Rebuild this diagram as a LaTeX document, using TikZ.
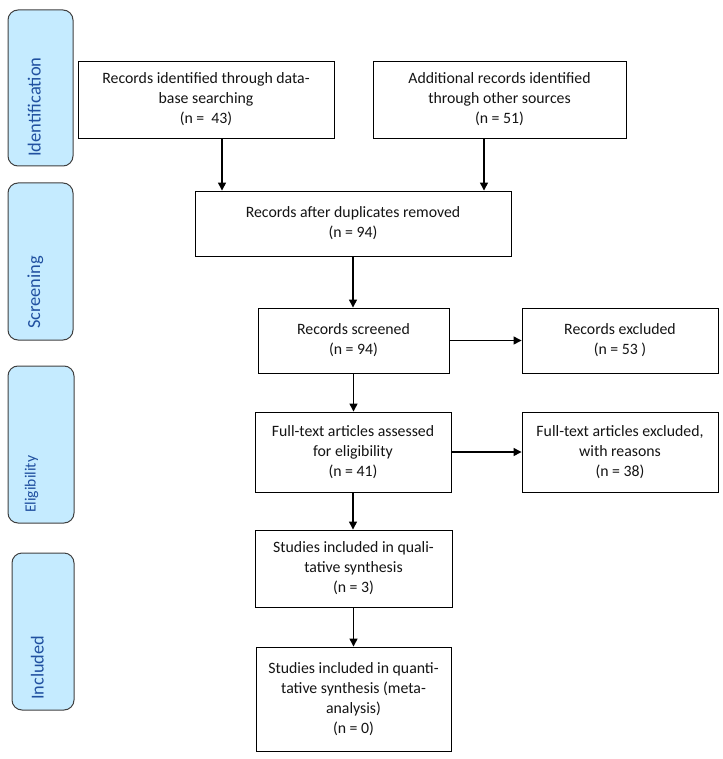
\documentclass[tikz,border=0pt]{standalone}
\usepackage{fontspec}
\setmainfont{Carlito}
\usetikzlibrary{arrows.meta}
\definecolor{sidefill}{RGB}{197,235,255}
\definecolor{sidetext}{RGB}{32,80,160}
\definecolor{sideline}{RGB}{64,64,64}
\definecolor{boxtext}{RGB}{20,20,20}
\begin{document}
\begin{tikzpicture}[x=1pt,y=-1pt,
  box/.style={draw=black, line width=0.9pt, fill=white, text=boxtext, align=center,
    font=\fontsize{15.8}{20}\selectfont, inner sep=0pt},
  side/.style={draw=sideline, line width=1pt, fill=sidefill, rounded corners=10pt, inner sep=0pt},
  sidelabel/.style={rotate=90, anchor=base west, inner sep=0pt, text=sidetext},
  arr/.style={-{Triangle[length=8pt,width=8pt]}, line width=1.3pt}]
\useasboundingbox (0,0) rectangle (722,759);

% side phase boxes
\node[side, minimum width=65pt, minimum height=156pt] (s1) at (40.5,88) {};
\node[side, minimum width=65pt, minimum height=157pt] (s2) at (40.5,261.5) {};
\node[side, minimum width=66pt, minimum height=157pt] (s3) at (41,444.5) {};
\node[side, minimum width=62pt, minimum height=157pt] (s4) at (43,631.5) {};
\node[sidelabel, font=\fontsize{18.5}{22}\selectfont] (l1) at (40.5,157) {Identification};
\node[sidelabel, font=\fontsize{18.4}{22}\selectfont] (l2) at (40,329) {Screening};
\node[sidelabel, font=\fontsize{15.6}{19}\selectfont] (l3) at (35.5,513) {Eligibility};
\node[sidelabel, font=\fontsize{18.3}{22}\selectfont] (l4) at (43.5,700) {Included};

% flow boxes
\node[box, minimum width=256pt, minimum height=77pt] (b1) at (206,99.5)
  {Records identified through data-\\base searching\\(n =\ \ 43)};
\node[box, minimum width=253pt, minimum height=77pt] (b2) at (499.5,99.5)
  {Additional records identified\\through other sources\\(n = 51)};
\node[box, minimum width=316pt, minimum height=65pt] (b3) at (353,223.5)
  {Records after duplicates removed\\(n = 94)};
\node[box, minimum width=191pt, minimum height=65pt] (b4) at (353.5,340.5)
  {Records screened\\(n = 94)};
\node[box, minimum width=196pt, minimum height=65pt] (b5) at (620,340.5)
  {Records excluded\\(n = 53 )};
\node[box, minimum width=196pt, minimum height=80pt] (b6) at (353,452)
  {Full-text articles assessed\\for eligibility\\(n = 41)};
\node[box, minimum width=196pt, minimum height=80pt] (b7) at (620,452)
  {Full-text articles excluded,\\with reasons\\(n = 38)};
\node[box, minimum width=197pt, minimum height=77pt] (b8) at (353.5,568.5)
  {Studies included in quali-\\tative synthesis\\(n = 3)};
\node[box, minimum width=195pt, minimum height=104pt] (b9) at (353.5,699)
  {Studies included in quanti-\\tative synthesis (meta-\\analysis)\\(n = 0)};

% connectors
\draw[arr] ([xshift=16pt]b1.south) -- ([xshift=16pt]b1.south |- b3.north);
\draw[arr] ([xshift=-15.5pt]b2.south) -- ([xshift=-15.5pt]b2.south |- b3.north);
\draw[arr] (b3.south) -- (b3.south |- b4.north);
\draw[arr] (b4.east) -- (b4.east -| b5.west);
\draw[arr] (b4.south) -- (b4.south |- b6.north);
\draw[arr] (b6.east) -- (b6.east -| b7.west);
\draw[arr] (b6.south) -- (b6.south |- b8.north);
\draw[arr] (b8.south) -- (b8.south |- b9.north);
\end{tikzpicture}
\end{document}
